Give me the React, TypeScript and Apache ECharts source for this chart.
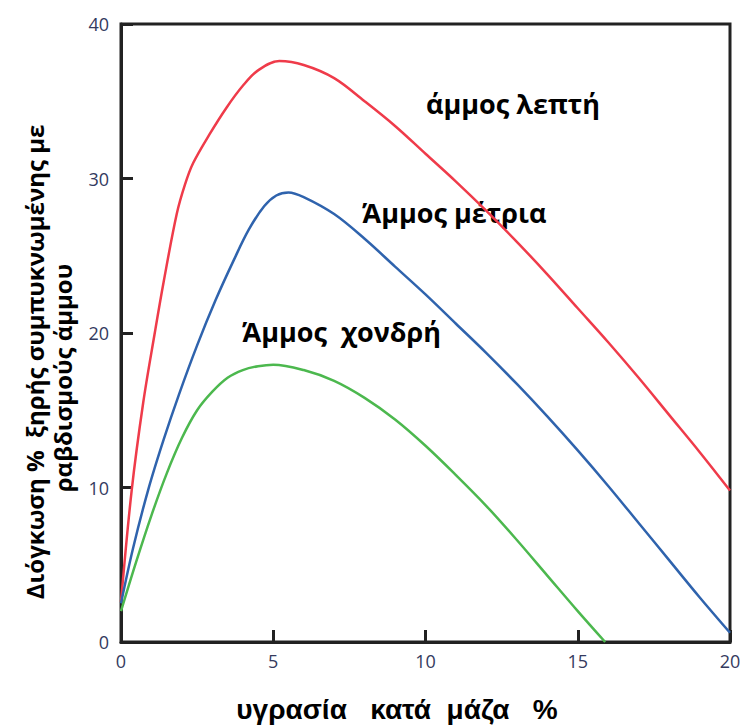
import React, { useEffect, useRef } from "react";
import * as echarts from "echarts";

// moisture % by mass (x) and swelling % (y)
const fineX = [0, 0.35, 0.73, 1.1, 1.4, 1.83, 2.1, 2.37, 2.92, 3.47, 4.0, 4.5, 5.2, 6.0, 7.0, 8.0, 9.0, 10.0, 11.0, 12.0, 13.0, 14.0, 15.0, 16.0, 17.0, 18.0, 19.0, 20];
const fineY = [2.6, 9.8, 15.5, 19.9, 23.3, 27.7, 29.6, 31.0, 32.9, 34.6, 36.0, 37.0, 37.6, 37.35, 36.5, 35.0, 33.4, 31.6, 29.8, 27.9, 25.9, 23.8, 21.6, 19.4, 17.1, 14.7, 12.3, 9.8];

const mediumX = [0, 0.4, 0.9, 1.4, 1.9, 2.5, 3.1, 3.7, 4.2, 4.7, 5.1, 5.5, 6.0, 7.0, 8.0, 9.0, 10.0, 11.0, 12.0, 13.0, 14.0, 15.0, 16.0, 17.0, 18.0, 19.0, 20];
const mediumY = [2.5, 6.1, 9.9, 13.1, 16.0, 19.2, 22.1, 24.7, 26.7, 28.2, 28.9, 29.1, 28.8, 27.7, 26.1, 24.3, 22.5, 20.6, 18.7, 16.7, 14.6, 12.4, 10.1, 7.7, 5.3, 2.9, 0.6];

const coarseX = [0, 0.5, 1.0, 1.5, 2.0, 2.5, 3.0, 3.5, 4.0, 4.5, 5.0, 6.0, 7.0, 8.0, 9.0, 10.0, 11.0, 12.0, 13.0, 14.0, 15.0, 15.9];
const coarseY = [2.0, 5.2, 8.2, 10.9, 13.2, 15.0, 16.2, 17.1, 17.6, 17.85, 17.95, 17.6, 16.9, 15.8, 14.4, 12.7, 10.8, 8.8, 6.6, 4.3, 2.0, 0];

const seriesNames = ["άμμος λεπτή", "Άμμος μέτρια", "Άμμος  χονδρή"];
const xTitle = "υγρασία   κατά  μάζα   %";
const yTitle1 = "Διόγκωση %  ξηρής συμπυκνωμένης με";
const yTitle2 = "ραβδισμούς άμμου";

const pairs = (xs: number[], ys: number[]) => xs.map((x, i) => [x, ys[i]]);

export default function App() {
  const ref = useRef<HTMLDivElement>(null);
  useEffect(() => {
    if (!ref.current) return;
    const chart = echarts.init(ref.current, null, { renderer: "svg" });
    const labelColor = "#343a5e";
    const axisColor = "#222";
    const lineCommon = {
      type: "line" as const,
      showSymbol: false,
      smooth: 0.35,
    };
    const labelFont = 'bold 27px "Open Sans"';
    chart.setOption({
      animation: false,
      backgroundColor: "#fff",
      grid: {
        left: 121,
        right: 17,
        top: 24,
        bottom: 83,
        show: true,
        borderColor: axisColor,
        borderWidth: 3,
        backgroundColor: "transparent",
      },
      xAxis: {
        type: "value",
        min: 0,
        max: 20,
        interval: 5,
        splitLine: { show: false },
        axisLine: { show: true, lineStyle: { color: axisColor, width: 3 } },
        axisTick: { show: true, inside: true, length: 12, lineStyle: { color: axisColor, width: 3 } },
        axisLabel: { color: labelColor, fontSize: 18, fontFamily: "Open Sans", margin: 10 },
      },
      yAxis: {
        type: "value",
        min: 0,
        max: 40,
        interval: 10,
        splitLine: { show: false },
        axisLine: { show: true, lineStyle: { color: axisColor, width: 3 } },
        axisTick: { show: true, inside: true, length: 12, lineStyle: { color: axisColor, width: 3 } },
        axisLabel: { color: labelColor, fontSize: 18, fontFamily: "Open Sans", margin: 12, padding: [0, 0, 6, 0] },
      },
      series: [
        { ...lineCommon, name: seriesNames[0], data: pairs(fineX, fineY), lineStyle: { color: "#ef3b4a", width: 2.5 }, itemStyle: { color: "#ef3b4a" } },
        { ...lineCommon, name: seriesNames[1], data: pairs(mediumX, mediumY), lineStyle: { color: "#2f63ad", width: 2.5 }, itemStyle: { color: "#2f63ad" } },
        { ...lineCommon, name: seriesNames[2], data: pairs(coarseX, coarseY), lineStyle: { color: "#4cb84e", width: 2.5 }, itemStyle: { color: "#4cb84e" } },
      ],
      graphic: [
        {
          type: "text",
          x: 426,
          y: 103,
          style: { text: seriesNames[0], font: labelFont, fill: "#000", textAlign: "left", textVerticalAlign: "middle" },
        },
        {
          type: "text",
          x: 362,
          y: 212,
          style: { text: seriesNames[1], font: labelFont, fill: "#000", textAlign: "left", textVerticalAlign: "middle" },
        },
        {
          type: "text",
          x: 242,
          y: 331,
          style: { text: seriesNames[2], font: labelFont, fill: "#000", textAlign: "left", textVerticalAlign: "middle" },
        },
        {
          type: "text",
          x: 397,
          y: 709,
          style: { text: xTitle, font: 'bold 28px "Liberation Sans"', fill: "#000", textAlign: "center", textVerticalAlign: "middle" },
        },
        {
          type: "text",
          x: 34,
          y: 362,
          rotation: Math.PI / 2,
          style: { text: yTitle1, font: 'bold 24px "Open Sans"', fill: "#000", textAlign: "center", textVerticalAlign: "middle" },
        },
        {
          type: "text",
          x: 62,
          y: 378,
          rotation: Math.PI / 2,
          style: { text: yTitle2, font: 'bold 24px "Open Sans"', fill: "#000", textAlign: "center", textVerticalAlign: "middle" },
        },
      ],
    });
    return () => chart.dispose();
  }, []);
  return <div ref={ref} style={{ width: 747, height: 725, position: "absolute", left: 0, top: 0 }} />;
}
